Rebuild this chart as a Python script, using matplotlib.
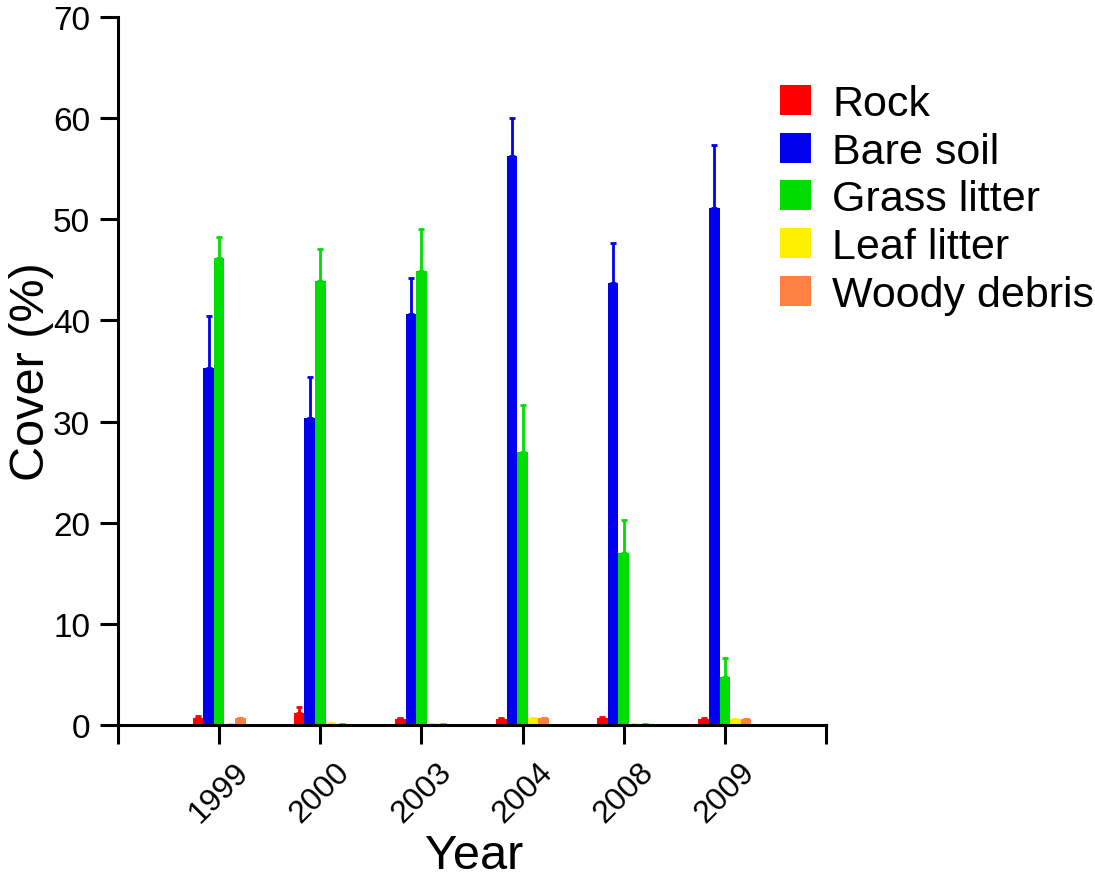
import matplotlib.pyplot as plt
import numpy as np

plt.rcParams['font.family'] = ['Liberation Sans', 'DejaVu Sans']

years = ['1999', '2000', '2003', '2004', '2008', '2009']
series = ['Rock', 'Bare soil', 'Grass litter', 'Leaf litter', 'Woody debris']
colors = ['#FF0000', '#0000EE', '#00DD00', '#FFF000', '#FF8040']

rock = [0.7, 1.2, 0.6, 0.6, 0.7, 0.6]
rock_err = [0.2, 0.6, 0.1, 0.1, 0.1, 0.1]
bare = [35.3, 30.4, 40.6, 56.3, 43.7, 51.1]
bare_err = [5.1, 4.0, 3.6, 3.7, 4.0, 6.2]
grass = [46.2, 43.9, 44.9, 27.0, 17.0, 4.7]
grass_err = [2.0, 3.2, 4.1, 4.6, 3.3, 1.9]
leaf = [0.1, 0.15, 0.1, 0.7, 0.1, 0.6]
leaf_err = [0.0, 0.0, 0.0, 0.0, 0.0, 0.0]
woody = [0.7, 0.1, 0.1, 0.7, 0.1, 0.6]
woody_err = [0.0, 0.0, 0.0, 0.0, 0.0, 0.0]

values = [rock, bare, grass, leaf, woody]
errors = [rock_err, bare_err, grass_err, leaf_err, woody_err]

fig = plt.figure(figsize=(10.95, 8.79), dpi=100)
ax = fig.add_axes([0.1078, 0.1741, 0.6465, 0.8054])

x = np.arange(1, len(years) + 1)
w = 0.105
for i, (vals, errs, name, c) in enumerate(zip(values, errors, series, colors)):
    pos = x + (i - 2) * w
    errs = np.array(errs)
    ax.bar(pos, vals, width=w, color=c, label=name, linewidth=0)
    ax.errorbar(pos, vals, yerr=[np.zeros_like(errs), errs], fmt='none',
                ecolor=c, elinewidth=2, capsize=2, capthick=2)

ax.set_xlim(0, 7)
ax.set_ylim(0, 70)
ax.set_xticks([0] + list(x) + [7])
ax.set_xticklabels([''] + years + [''], rotation=45, fontsize=23)
ax.set_yticks(range(0, 71, 10))
ax.tick_params(axis='y', labelsize=24, length=13, width=2.2, pad=7)
ax.tick_params(axis='x', length=13.5, width=2.2, pad=9)
for s in ['top', 'right']:
    ax.spines[s].set_visible(False)
for s in ['left', 'bottom']:
    ax.spines[s].set_linewidth(2.2)

ax.set_ylabel('Cover (%)', fontsize=35)
ax.yaxis.set_label_coords(-0.09, 0.5)
ax.set_xlabel('Year', fontsize=35)
ax.xaxis.set_label_coords(0.503, -0.152)

fig.legend(loc='upper left', bbox_to_anchor=(0.697, 0.923), frameon=False,
           fontsize=31, handlelength=0.7, handleheight=0.7,
           handletextpad=0.5, labelspacing=0.18, borderaxespad=0)

fig.savefig('out.png', dpi=100)
